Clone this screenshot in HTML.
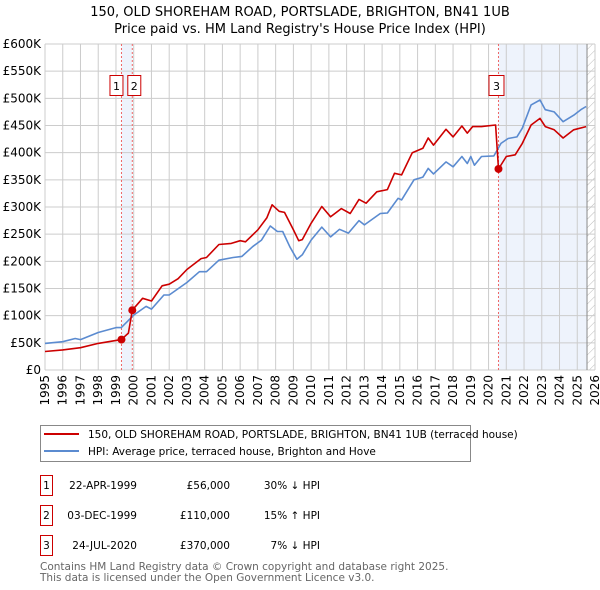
<!DOCTYPE html>
<html><head><meta charset="utf-8"><style>
body{margin:0;background:#fff;width:600px;height:590px;overflow:hidden;font-family:"DejaVu Sans","Liberation Sans",sans-serif}
svg{display:block}
</style></head><body>
<svg id="c" width="600" height="590" xmlns="http://www.w3.org/2000/svg">
<text x="300" y="16" text-anchor="middle" font-size="13">150, OLD SHOREHAM ROAD, PORTSLADE, BRIGHTON, BN41 1UB</text>
<text x="300" y="33" text-anchor="middle" font-size="13">Price paid vs. HM Land Registry's House Price Index (HPI)</text>
<g id="plot"></g>
<g>
<rect x="40.5" y="425.5" width="430" height="36" fill="#fff" stroke="#888"/>
<line x1="44" y1="434" x2="79" y2="434" stroke="#cc0000" stroke-width="2"/>
<text x="88" y="438" font-size="10.5">150, OLD SHOREHAM ROAD, PORTSLADE, BRIGHTON, BN41 1UB (terraced house)</text>
<line x1="44" y1="451" x2="79" y2="451" stroke="#5b8bd0" stroke-width="2"/>
<text x="88" y="455" font-size="10.5">HPI: Average price, terraced house, Brighton and Hove</text>
</g>
<g font-size="10.5">
<rect x="40.5" y="475.5" width="12" height="20" fill="none" stroke="#cc0000"/><text x="46.5" y="489" text-anchor="middle">1</text>
<text x="137" y="489" text-anchor="end">22-APR-1999</text><text x="230" y="489" text-anchor="end">£56,000</text><text x="320" y="489" text-anchor="end">30% ↓ HPI</text>
<rect x="40.5" y="505.5" width="12" height="20" fill="none" stroke="#cc0000"/><text x="46.5" y="519" text-anchor="middle">2</text>
<text x="137" y="519" text-anchor="end">03-DEC-1999</text><text x="230" y="519" text-anchor="end">£110,000</text><text x="320" y="519" text-anchor="end">15% ↑ HPI</text>
<rect x="40.5" y="535.5" width="12" height="20" fill="none" stroke="#cc0000"/><text x="46.5" y="549" text-anchor="middle">3</text>
<text x="137" y="549" text-anchor="end">24-JUL-2020</text><text x="230" y="549" text-anchor="end">£370,000</text><text x="320" y="549" text-anchor="end">7% ↓ HPI</text>
</g>
<text x="40" y="570" font-size="10.5" fill="#666">Contains HM Land Registry data © Crown copyright and database right 2025.</text>
<text x="40" y="581" font-size="10.5" fill="#666">This data is licensed under the Open Government Licence v3.0.</text>
</svg>
<script>
const hpiYears=[1995,1996,1996.7,1997,1998,1999,1999.3,2000,2000.7,2001,2001.7,2002,2003,2003.7,2004.1,2004.8,2005.6,2006.1,2006.7,2007.2,2007.7,2008.1,2008.4,2008.8,2009.2,2009.5,2010,2010.6,2011.1,2011.6,2012.1,2012.7,2013,2013.9,2014.3,2014.9,2015.1,2015.8,2016.3,2016.6,2016.9,2017.6,2018,2018.5,2018.8,2019,2019.2,2019.6,2020.3,2020.7,2021.1,2021.6,2021.9,2022.4,2022.9,2023.2,2023.7,2024.2,2024.8,2025.2,2025.5];
const hpiValues=[49,52,58,56,69,78,78,101,117,112,138,138,161,181,181,202,207,209,227,239,265,255,255,227,204,212,239,263,245,259,252,275,267,288,289,316,313,350,355,371,361,383,374,393,380,393,377,393,394,417,426,429,445,488,497,479,475,457,469,479,485];
const priceYears=[1995,1996,1997,1998,1999.3,1999.7,1999.92,2000.5,2001,2001.6,2002,2002.5,2003,2003.8,2004.1,2004.8,2005.5,2006,2006.3,2007,2007.5,2007.8,2008.2,2008.5,2009,2009.3,2009.5,2010,2010.6,2011.1,2011.7,2012.2,2012.7,2013.1,2013.7,2014.3,2014.7,2015.1,2015.7,2016.3,2016.6,2016.9,2017.6,2018,2018.5,2018.8,2019.1,2019.6,2020.4,2020.56,2021,2021.5,2021.9,2022.4,2022.9,2023.2,2023.7,2024.2,2024.8,2025.5];
const priceValues=[34,37,41,49,56,68,110,132,127,155,158,168,185,205,207,231,233,238,236,258,280,304,292,290,258,238,240,270,301,282,297,288,314,307,328,332,362,359,400,408,427,414,443,429,449,436,448,448,451,370,393,396,417,451,463,448,442,427,442,448];
const saleLabels=["1","2","3"];
const saleYears=[1999.31,1999.92,2020.56];
const salePrices=[56,110,370];
const yTicks=[0,50,100,150,200,250,300,350,400,450,500,550,600];
const yTickLabels=["£0","£50K","£100K","£150K","£200K","£250K","£300K","£350K","£400K","£450K","£500K","£550K","£600K"];
const xTicks=[1995,1996,1997,1998,1999,2000,2001,2002,2003,2004,2005,2006,2007,2008,2009,2010,2011,2012,2013,2014,2015,2016,2017,2018,2019,2020,2021,2022,2023,2024,2025,2026];

const X0=45,X1=595,Y0=370,Y1=44,xmin=1995,xmax=2026,ymax=600,dataEnd=2025.55;
const xs=v=>X0+(v-xmin)/(xmax-xmin)*(X1-X0);
const ys=v=>Y0-v/ymax*(Y0-Y1);
const NS="http://www.w3.org/2000/svg";
const g=document.getElementById('plot');
function mk(t,a,p){const e=document.createElementNS(NS,t);for(const k in a)e.setAttribute(k,a[k]);(p||g).appendChild(e);return e;}
// shaded regions
let r=mk('rect',{x:xs(saleYears[0]),y:Y1,width:xs(saleYears[1])-xs(saleYears[0]),height:Y0-Y1,fill:'#eef3fc'});


r=mk('rect',{x:xs(saleYears[2]),y:Y1,width:xs(dataEnd)-xs(saleYears[2]),height:Y0-Y1,fill:'#eef3fc'});


// hatch
const defs=mk('defs',{});
const pat=mk('pattern',{id:'h',width:6,height:6,patternUnits:'userSpaceOnUse',patternTransform:'rotate(45)'},defs);
mk('line',{x1:0,y1:0,x2:0,y2:6,stroke:'#bbb','stroke-width':1},pat);
r=mk('rect',{x:xs(dataEnd),y:Y1,width:X1-xs(dataEnd),height:Y0-Y1,fill:'url(#h)'});


// grid
yTicks.forEach((v,i)=>{
  const l=mk('line',{x1:X0,x2:X1,y1:ys(v),y2:ys(v),stroke:'#ccc','stroke-width':1});
  
  
  const t=mk('text',{x:X0-4,y:ys(v)+4,'text-anchor':'end','font-size':12});
  t.textContent=yTickLabels[i];
  
  
});
xTicks.forEach(v=>{
  const l=mk('line',{x1:xs(v),x2:xs(v),y1:Y1,y2:Y0,stroke:'#ccc','stroke-width':1});
  
  
  const t=mk('text',{x:0,y:0,'text-anchor':'end','font-size':12,transform:`translate(${xs(v)+4},${Y0+5}) rotate(-90)`});
  t.textContent=v;
  
  
});
let dl=mk('line',{x1:xs(dataEnd),x2:xs(dataEnd),y1:Y1,y2:Y0,stroke:'#888','stroke-width':1});


// sale vlines
saleYears.forEach((v,i)=>{
  const l=mk('line',{x1:xs(v),x2:xs(v),y1:Y1,y2:Y0,stroke:'#e66','stroke-width':1,'stroke-dasharray':'2,2'});
  
  
});
function line(xa,ya,col,name){
  const d=xa.map((x,i)=>(i?'L':'M')+xs(x).toFixed(1)+','+ys(ya[i]).toFixed(1)).join('');
  const p=mk('path',{d:d,fill:'none',stroke:col,'stroke-width':1.6,'stroke-linejoin':'round'});
  
  
}
line(hpiYears,hpiValues,'#5b8bd0','hpi-line');
line(priceYears,priceValues,'#cc0000','price-paid-line');
saleYears.forEach((v,i)=>{
  const c=mk('circle',{cx:xs(v),cy:ys(salePrices[i]),r:4,fill:'#cc0000'});
  
  
  const bx=i==0?xs(v)-12:(i==1?xs(v)-5:xs(v)-10);
  const b=mk('rect',{x:bx+0.5,y:75.5,width:i==2?15:13,height:20,fill:'#fff',stroke:'#cc0000'});
  
  
  const t=mk('text',{x:bx+(i==2?8:7),y:90,'text-anchor':'middle','font-size':11});
  t.textContent=saleLabels[i];
  
  
});
</script>
</body></html>
